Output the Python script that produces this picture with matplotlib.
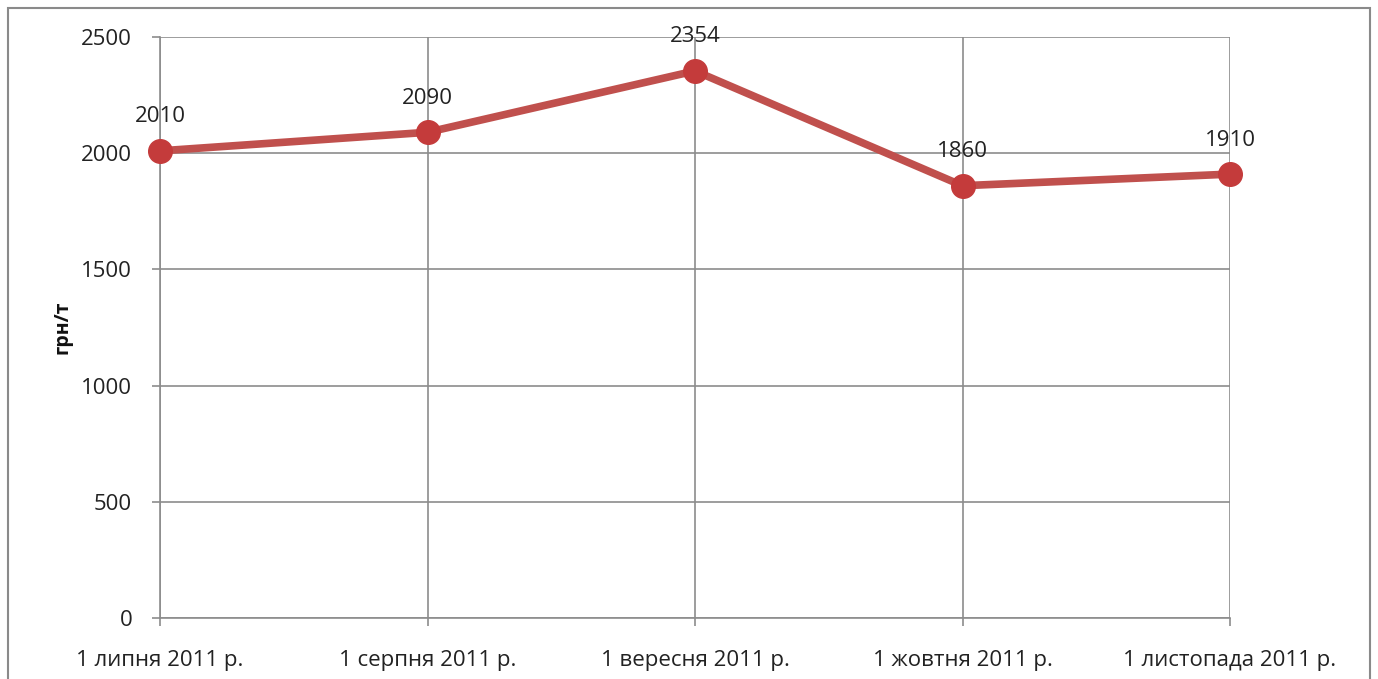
import matplotlib
matplotlib.use("Agg")
import matplotlib.pyplot as plt
from matplotlib.patches import Rectangle

categories = ["1 липня 2011 р.", "1 серпня 2011 р.", "1 вересня 2011 р.", "1 жовтня 2011 р.", "1 листопада 2011 р."]
values = [2010, 2090, 2354, 1860, 1910]
y_ticks = [0, 500, 1000, 1500, 2000, 2500]

plt.rcParams['font.family'] = ['Open Sans', 'DejaVu Sans']
FS = 16

fig = plt.figure(figsize=(13.78, 6.79), dpi=100)
ax = fig.add_axes([160/1378, 1-618/679, (1230-160)/1378, (618-37)/679])

x = list(range(len(categories)))
ax.plot(x, values, color='#C0504D', lw=5.5, solid_capstyle='round', zorder=3,
        marker='o', markersize=17, markerfacecolor='#C43B3B', markeredgecolor='#C43B3B',
        clip_on=False)

for xi, v in zip(x, values):
    ax.annotate(str(v), (xi, v), xytext=(0, 17), textcoords='offset points',
                ha='center', va='bottom', fontsize=FS, color='#222222')

ax.set_xlim(0, len(categories)-1)
ax.set_ylim(0, 2500)
ax.set_xticks(x)
ax.set_xticklabels(categories, fontsize=FS, color='#222222')
ax.set_yticks(y_ticks)
ax.set_yticklabels([str(t) for t in y_ticks], fontsize=FS, color='#222222')
ax.grid(True, color='#8c8c8c', lw=1.2)
ax.set_axisbelow(True)
for s in ['top', 'right']:
    ax.spines[s].set_visible(False)
for s in ['left', 'bottom']:
    ax.spines[s].set_color('#8c8c8c')
    ax.spines[s].set_linewidth(1.2)
ax.tick_params(axis='both', color='#8c8c8c', length=6, width=1.2)
ax.tick_params(axis='x', pad=17)
ax.tick_params(axis='y', pad=14)

fig.text(62/1378, 1-327/679, 'грн/т', rotation=90, ha='center', va='center',
         fontsize=FS-2, fontweight='bold', color='#111111')

fig.patches.append(Rectangle((8/1378, -0.05), (1370-8)/1378, 1.05-8/679,
                             transform=fig.transFigure, fill=False,
                             edgecolor='#8a8a8a', lw=1.5))

fig.savefig('out.png', dpi=100)
